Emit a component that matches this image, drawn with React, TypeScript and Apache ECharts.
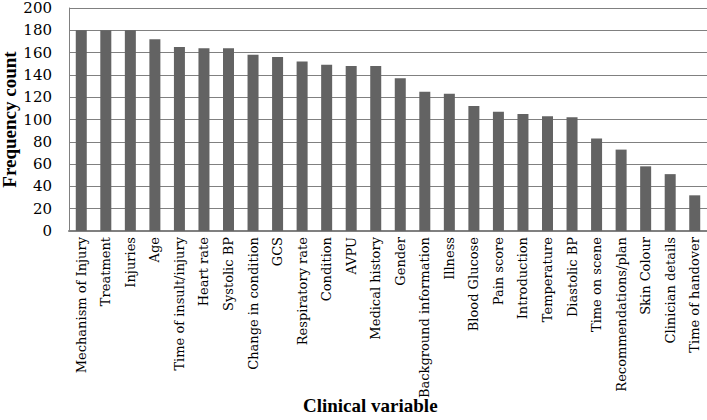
import React, { useEffect, useRef } from "react";
import * as echarts from "echarts";

const categories = [
  "Mechanism of Injury", "Treatment", "Injuries", "Age", "Time of insult/injury",
  "Heart rate", "Systolic BP", "Change in condition", "GCS", "Respiratory rate",
  "Condition", "AVPU", "Medical history", "Gender", "Background information",
  "Illness", "Blood Glucose", "Pain score", "Introduction", "Temperature",
  "Diastolic BP", "Time on scene", "Recommendations/plan", "Skin Colour",
  "Clinician details", "Time of handover",
];
const frequency = [
  180, 180, 180, 172, 165, 164, 164, 158, 156, 152, 149, 148, 148, 137, 125,
  123, 112, 107, 105, 103, 102, 83, 73, 58, 51, 32,
];

export default function App() {
  const ref = useRef<HTMLDivElement>(null);
  useEffect(() => {
    const chart = echarts.init(ref.current!, null, { renderer: "svg" });
    const serif = "'DejaVu Serif', 'Liberation Serif', serif";
    const times = "'Liberation Serif', serif";
    chart.setOption({
      animation: false,
      backgroundColor: "#ffffff",
      title: {
        text: "Clinical variable",
        left: 303,
        top: 396,
        padding: 0,
        textStyle: { fontFamily: times, fontWeight: "bold", fontSize: 19, color: "#000" },
      },
      grid: { left: 69, right: 0, top: 8, bottom: 189, outerBoundsMode: "none", containLabel: false },
      xAxis: {
        type: "category",
        data: categories,
        axisLine: { lineStyle: { color: "#808080", width: 2 } },
        axisTick: { show: false },
        axisLabel: {
          rotate: 90,
          interval: 0,
          margin: 6,
          fontFamily: serif,
          fontSize: 13,
          color: "#000",
        },
      },
      yAxis: {
        type: "value",
        min: 0,
        max: 200,
        interval: 20,
        name: "Frequency count",
        nameLocation: "middle",
        nameGap: 50,
        nameMoveOverlap: false,
        nameTextStyle: { fontFamily: times, fontWeight: "bold", fontSize: 19, color: "#000" },
        axisLine: { show: true, lineStyle: { color: "#808080", width: 1 } },
        axisTick: { show: false },
        axisLabel: { fontFamily: serif, fontSize: 15, color: "#000", margin: 17 },
        splitLine: { lineStyle: { color: "#808080", width: 1 } },
      },
      series: [
        {
          type: "bar",
          data: frequency,
          barWidth: 11,
          itemStyle: { color: "#636363" },
        },
      ],
    });
    return () => chart.dispose();
  }, []);
  return <div ref={ref} style={{ width: 707, height: 420, position: "absolute", left: 0, top: 0 }} />;
}
